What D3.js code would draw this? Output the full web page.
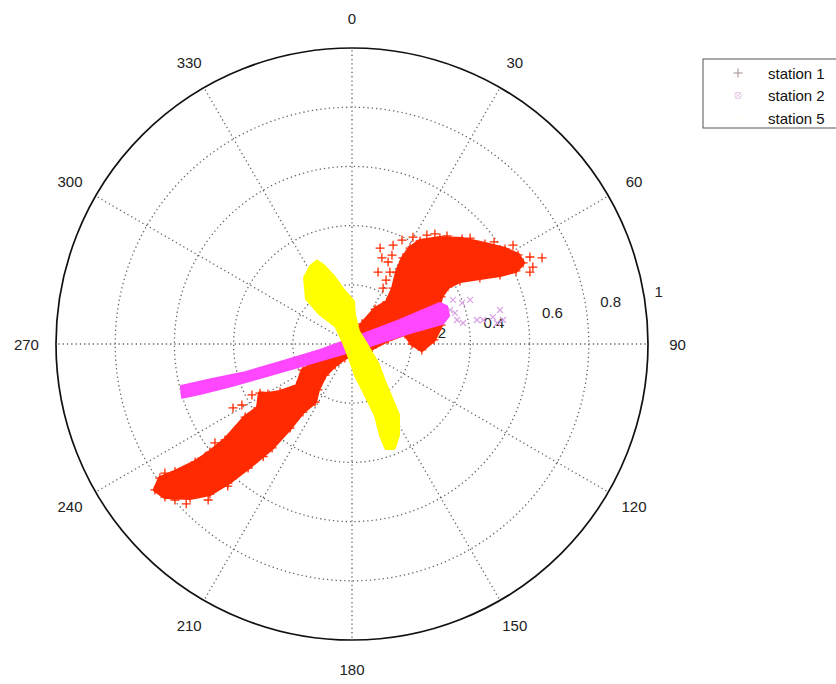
<!DOCTYPE html>
<html><head><meta charset="utf-8">
<script src="https://cdn.jsdelivr.net/npm/d3@7"></script>
<style>
html,body{margin:0;padding:0;background:#fff;}
svg{display:block;}
text{font-family:"Liberation Sans",Arial,Helvetica,sans-serif;}
</style></head>
<body>
<svg id="chart" width="836" height="684"></svg>
<script>
// ---------- data (east / north components, unit = radial axis value) ----------
const seriesNames = ["station 1", "station 2", "station 5"];
const angleTicks = [0, 30, 60, 90, 120, 150, 180, 210, 240, 270, 300, 330];
const rhoTicks = [0.2, 0.4, 0.6, 0.8, 1];
const rhoTickLabels = ["0.2", "0.4", "0.6", "0.8", "1"];

// station 1: outline of the dense cloud of "+" samples
const station1Outline = [
 [.172,.291],[.196,.324],[.230,.348],[.297,.358],[.372,.355],[.449,.338],[.517,.321],[.561,.301],
 [.578,.274],[.554,.247],[.500,.233],[.432,.223],[.365,.213],[.324,.193],[.301,.159],[.291,.115],
 [.301,.064],[.277,.014],[.236,-.020],[.203,.000],[.179,.034],[.122,.014],[.068,-.014],[.020,-.027],
 [-.024,-.047],[-.057,-.071],[-.091,-.105],[-.115,-.155],[-.125,-.196],[-.166,-.230],[-.209,-.284],
 [-.270,-.351],[-.351,-.419],[-.419,-.470],[-.480,-.507],[-.547,-.520],[-.632,-.517],[-.666,-.493],
 [-.649,-.453],[-.598,-.432],[-.530,-.399],[-.480,-.365],[-.429,-.324],[-.361,-.247],[-.318,-.216],
 [-.311,-.166],[-.284,-.169],[-.243,-.162],[-.186,-.142],[-.166,-.088],[-.125,-.064],[-.057,-.027],
 [-.007,.014],[.034,.068],[.078,.118],[.118,.142],[.139,.189],[.152,.243]
];
// station 1: isolated samples
const station1Outliers = [
 [.095,.324],[.101,.291],[.088,.243],[.128,.243],[.105,.189],[.139,.334],[.169,.351],[.206,.361],
 [.253,.368],[.321,.365],[.399,.358],[.544,.334],[.601,.294],[.642,.291],[.611,.260],[.601,.243],
 [.122,.277],[-.402,-.216],[-.372,-.206],[-.338,-.172],[-.463,-.334],[-.497,-.382],[-.520,-.399],
 [-.632,-.436],[-.655,-.486],[-.486,-.527],[-.598,-.527],[.115,.216],[.135,.300],[.480,.345],
 [.280,.372],[-.560,-.540],[-.420,-.480],[-.300,-.380]
];
// station 2
const station2Outline = [
 [-.578,-.142],[-.473,-.118],[-.361,-.095],[-.243,-.061],[-.108,-.020],[.027,.030],[.162,.081],
 [.247,.118],[.297,.139],[.321,.128],[.328,.095],[.307,.068],[.196,.037],[.061,-.007],[-.074,-.047],
 [-.193,-.081],[-.311,-.115],[-.419,-.145],[-.514,-.169],[-.574,-.182]
];
const station2Outliers = [
 [.341,.149],[.372,.139],[.399,.149],[.355,.081],[.375,.071],[.422,.081],[.443,.081],[.476,.091],
 [.490,.071],[.510,.081],[.500,.115],[.331,.115],[.348,.105]
];
// station 5
const station5Outline = [
 [-.098,.260],[-.064,.223],[-.030,.176],[.000,.142],[.003,.098],[.017,.041],[.051,-.014],[.084,-.071],
 [.105,-.128],[.128,-.182],[.152,-.240],[.152,-.307],[.139,-.348],[.118,-.348],[.101,-.307],
 [.084,-.240],[.051,-.172],[.017,-.105],[-.007,-.037],[-.024,.007],[-.051,.064],[-.108,.108],
 [-.149,.155],[-.155,.223],[-.135,.260],[-.118,.274]
];

// ---------- layout ----------
const cx = 352, cy = 344, R = 296;
const colors = {s1: "#ff2a00", s2: "#ff47ff", s5: "#ffff00", s2light: "#d9a3e3"};
const svg = d3.select("#chart");
const g = svg.append("g").attr("transform", `translate(${cx},${cy})`);
const r = d3.scaleLinear().domain([0, 1]).range([0, R]);
const toPolar = ([e, n]) => ({theta: Math.atan2(e, n), rho: Math.hypot(e, n)});
const px = p => r(p.rho) * Math.sin(p.theta);
const py = p => -r(p.rho) * Math.cos(p.theta);
const rad = a => a * Math.PI / 180;

// grid rings
g.selectAll("circle.ring").data(rhoTicks.slice(0, -1)).join("circle")
  .attr("r", d => r(d)).attr("fill", "none")
  .attr("stroke", "#666").attr("stroke-width", 1.3).attr("stroke-dasharray", "1.3,3");
// spokes
g.selectAll("line.spoke").data(angleTicks).join("line")
  .attr("x1", 0).attr("y1", 0)
  .attr("x2", d => r(1) * Math.sin(rad(d))).attr("y2", d => -r(1) * Math.cos(rad(d)))
  .attr("stroke", "#666").attr("stroke-width", 1.3).attr("stroke-dasharray", "1.3,3");
// outer ring
g.append("circle").attr("r", r(1)).attr("fill", "none").attr("stroke", "#111").attr("stroke-width", 1.7);

// angle labels
g.selectAll("text.ang").data(angleTicks).join("text")
  .attr("x", d => r(1.1) * Math.sin(rad(d)))
  .attr("y", d => -r(1.1) * Math.cos(rad(d)))
  .attr("text-anchor", "middle").attr("dominant-baseline", "central")
  .attr("font-size", 15).attr("fill", "#222").text(d => d);
// rho labels
g.selectAll("text.rho").data(rhoTicks).join("text")
  .attr("x", d => r(d) * Math.sin(rad(80)) + (d === 1 ? 11 : 15))
  .attr("y", d => -r(d) * Math.cos(rad(80)) - 1)
  .attr("dominant-baseline", "central")
  .attr("font-size", 15).attr("fill", "#222").text((d, i) => rhoTickLabels[i]);

const radial = d3.lineRadial()
  .angle(d => d.theta).radius(d => r(d.rho)).curve(d3.curveLinearClosed);
const plusPath = "M-4.5,0H4.5M0,-4.5V4.5";
const xPath = "M-3,-3L3,3M-3,3L3,-3";

// station 1
const s1 = station1Outline.map(toPolar);
g.append("path").attr("d", radial(s1)).attr("fill", colors.s1)
  .attr("stroke", colors.s1).attr("stroke-width", 4).attr("stroke-linejoin", "round");
g.selectAll("path.s1m").data(s1.concat(station1Outliers.map(toPolar))).join("path")
  .attr("transform", d => `translate(${px(d)},${py(d)})`)
  .attr("d", plusPath).attr("stroke", colors.s1).attr("stroke-width", 1.3).attr("fill", "none");

// station 2
g.selectAll("path.s2o").data(station2Outliers.map(toPolar)).join("path")
  .attr("transform", d => `translate(${px(d)},${py(d)})`)
  .attr("d", xPath).attr("stroke", colors.s2light).attr("stroke-width", 1.2).attr("fill", "none");
const s2 = station2Outline.map(toPolar);
g.append("path").attr("d", radial(s2)).attr("fill", colors.s2)
  .attr("stroke", colors.s2).attr("stroke-width", 2).attr("stroke-linejoin", "round");

// station 5
const s5 = station5Outline.map(toPolar);
g.append("path").attr("d", radial(s5)).attr("fill", colors.s5)
  .attr("stroke", colors.s5).attr("stroke-width", 6).attr("stroke-linejoin", "round");

// legend
const lg = svg.append("g").attr("transform", "translate(703,59)");
lg.append("rect").attr("x", 0).attr("y", 0).attr("width", 140).attr("height", 69)
  .attr("fill", "#fff").attr("stroke", "#555").attr("stroke-width", 1);
const legendMarks = [
  {d: plusPath, stroke: "#a58a8a"},
  {d: xPath + "M-3.2,0A3.2,3.2 0 1 0 3.2,0A3.2,3.2 0 1 0 -3.2,0", stroke: "#e6c6e6"},
  {d: "M-3,0H3", stroke: "#fffbe0"}
];
seriesNames.forEach((name, i) => {
  const yy = 14 + i * 22.5;
  lg.append("path").attr("transform", `translate(35,${yy})`).attr("d", legendMarks[i].d)
    .attr("stroke", legendMarks[i].stroke).attr("stroke-width", 1).attr("fill", "none");
  lg.append("text").attr("x", 65).attr("y", yy).attr("dominant-baseline", "central")
    .attr("font-size", 15).attr("fill", "#111").text(name);
});
</script>
</body></html>
